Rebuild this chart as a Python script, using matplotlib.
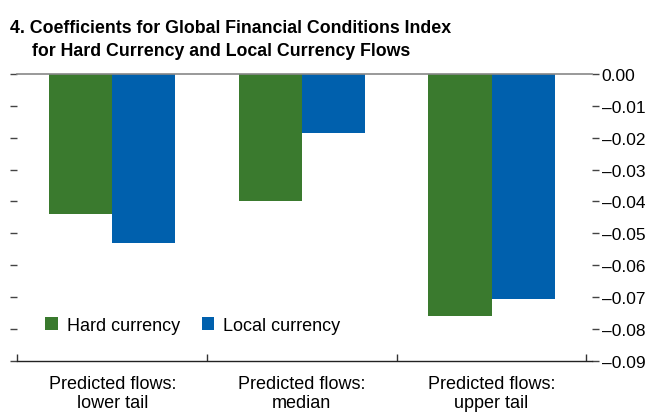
import numpy as np
import matplotlib.pyplot as plt
from matplotlib.ticker import FuncFormatter

plt.rcParams['font.family'] = ['Liberation Sans', 'DejaVu Sans']

categories = ['Predicted flows:\nlower tail', 'Predicted flows:\nmedian', 'Predicted flows:\nupper tail']
hard = [-0.044, -0.040, -0.076]
local = [-0.053, -0.0185, -0.0705]
yticks = [0.00, -0.01, -0.02, -0.03, -0.04, -0.05, -0.06, -0.07, -0.08, -0.09]

green = '#3a7a2e'
blue = '#0060ad'

fig = plt.figure(figsize=(6.45, 4.14), dpi=100)
ax = fig.add_axes([0.027, 0.126, 0.891, 0.693])

x = np.arange(len(categories))
w = 1 / 3
ax.bar(x - w / 2, hard, w, color=green, label='Hard currency')
ax.bar(x + w / 2, local, w, color=blue, label='Local currency')

ax.set_xlim(-0.5, 2.53)
ax.set_ylim(-0.09, 0)
ax.set_yticks(yticks)
ax.yaxis.set_major_formatter(FuncFormatter(lambda v, p: f'{v:.2f}'.replace('-', '\u2013') if v != 0 else '0.00'))
ax.tick_params(axis='y', left=True, right=True, labelleft=False, labelright=True,
               length=5, width=1, color='#444444', labelsize=12.5, pad=2)

ax.set_xticks([-0.5, 0.5, 1.5, 2.5])
ax.set_xticklabels([])
ax.set_xticks(x, minor=True)
ax.set_xticklabels(categories, minor=True, fontsize=13)
ax.tick_params(axis='x', which='major', direction='in', length=5, width=1, color='#333333')
ax.tick_params(axis='x', which='minor', length=0, pad=10)

for s in ['left', 'right']:
    ax.spines[s].set_visible(False)
ax.spines['top'].set_color('#888888')
ax.spines['top'].set_linewidth(1.2)
ax.spines['bottom'].set_color('#222222')
ax.spines['bottom'].set_linewidth(1)

ax.legend(loc='lower left', bbox_to_anchor=(0.036, 0.07), ncol=2, frameon=False, fontsize=13,
          handlelength=0.7, handleheight=0.7, handletextpad=0.5, columnspacing=1.2, borderaxespad=0)

fig.text(0.015, 1 - 33 / 414, '4. Coefficients for Global Financial Conditions Index', fontsize=12.8,
         fontweight='bold', va='baseline')
fig.text(0.049, 1 - 56 / 414, 'for Hard Currency and Local Currency Flows', fontsize=12.8,
         fontweight='bold', va='baseline')

fig.savefig('out.png', dpi=100)
